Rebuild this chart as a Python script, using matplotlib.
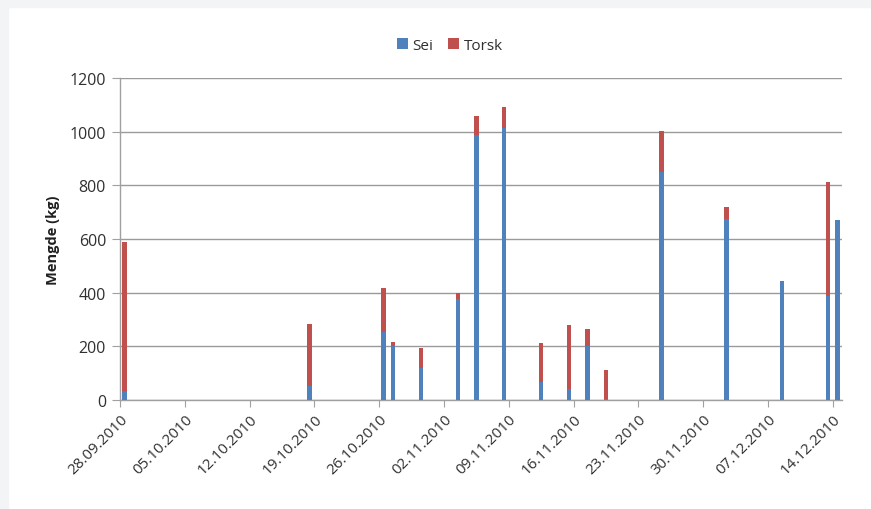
import numpy as np
import pandas as pd
import matplotlib
matplotlib.use("Agg")
import matplotlib.pyplot as plt
import matplotlib.dates as mdates
from matplotlib.patches import Rectangle

plt.rcParams['font.family'] = ['Open Sans', 'DejaVu Sans']

# landing dates and catch (kg) per species
dates = ['28.09.2010', '18.10.2010', '26.10.2010', '27.10.2010', '30.10.2010',
         '03.11.2010', '05.11.2010', '08.11.2010', '12.11.2010', '15.11.2010',
         '17.11.2010', '19.11.2010', '25.11.2010', '02.12.2010', '08.12.2010',
         '13.12.2010', '14.12.2010']
sei = [34, 52, 254, 201, 121, 376, 988, 1014, 67, 42, 200, 4, 851, 673, 445, 387, 669]
torsk = [553, 233, 165, 14, 71, 22, 69, 78, 147, 239, 64, 108, 152, 47, 0, 426, 0]

tick_start = '28.09.2010'
tick_end = '14.12.2010'

days = pd.to_datetime(dates, format='%d.%m.%Y')
xpos = mdates.date2num(days) + 0.5   # bar sits in the middle of its day slot
sei = np.array(sei)
torsk = np.array(torsk)

fig = plt.figure(figsize=(8.71, 5.10), dpi=100)
fig.patches.append(Rectangle((0, 1 - 8/510), 1, 8/510, transform=fig.transFigure,
                             color='#f3f4f6', zorder=-1))
fig.patches.append(Rectangle((0, 0), 8/871, 1, transform=fig.transFigure,
                             color='#f3f4f6', zorder=-1))
ax = fig.add_axes([120/871, 1 - 401/510, 722/871, 322/510])

blue = '#4F81BD'
red = '#C0504D'
w = 0.5
ax.bar(xpos, sei, width=w, color=blue, label='Sei', zorder=3)
ax.bar(xpos, torsk, width=w, bottom=sei, color=red, label='Torsk', zorder=3)

t0 = mdates.date2num(pd.to_datetime(tick_start, format='%d.%m.%Y'))
t1 = mdates.date2num(pd.to_datetime(tick_end, format='%d.%m.%Y'))
ax.set_xlim(t0, t1 + 1)
ax.set_ylim(0, 1200)

ticks = np.arange(t0, t1 + 1, 7)
ax.set_xticks(ticks)
ax.set_xticklabels([mdates.num2date(t).strftime('%d.%m.%Y') for t in ticks],
                   rotation=45, ha='right', va='top', rotation_mode='anchor',
                   fontsize=11, color='#303030')
ax.set_yticks(np.arange(0, 1201, 200))
ax.tick_params(axis='y', labelsize=11.5, labelcolor='#303030', length=6,
               color='#a0a0a0', pad=4)
ax.tick_params(axis='x', length=5, color='#a0a0a0', pad=3)

ax.grid(axis='y', color='#9a9a9a', lw=1, zorder=0)
for s in ['top', 'right']:
    ax.spines[s].set_visible(False)
for s in ['left', 'bottom']:
    ax.spines[s].set_color('#a0a0a0')
    ax.spines[s].set_linewidth(1)

ax.set_ylabel('Mengde (kg)', fontsize=10.5, fontweight='bold', color='#202020',
              labelpad=7)

ax.legend(loc='lower center', bbox_to_anchor=(0.457, 1.035), ncol=2, frameon=False,
          fontsize=11, handlelength=0.7, handleheight=0.7, handletextpad=0.3,
          columnspacing=1.0, labelcolor='#303030')

fig.savefig('out.png', dpi=100)
